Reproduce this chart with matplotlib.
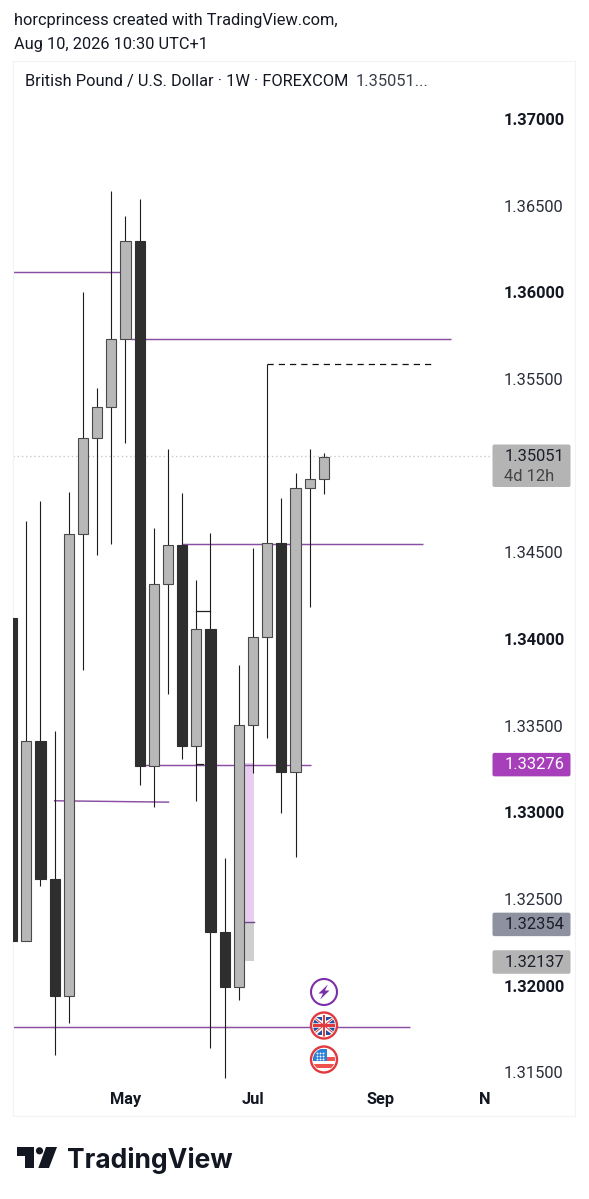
import matplotlib
matplotlib.use("Agg")
import matplotlib.pyplot as plt
from matplotlib.patches import Circle, Polygon, Rectangle, FancyBboxPatch

plt.rcParams['font.family'] = ['Roboto', 'DejaVu Sans']

W, H = 589, 1199
# ---------- data (weekly GBP/USD candles) ----------
opens = [1.34118, 1.32257, 1.33408, 1.32615, 1.31939, 1.34607, 1.35161, 1.35336, 1.35731, 1.36296,
         1.33267, 1.34314, 1.34544, 1.33380, 1.34060, 1.32308, 1.31994, 1.33506, 1.34011, 1.34552,
         1.33233, 1.34873, 1.34924]
closes = [1.32257, 1.33408, 1.32615, 1.31939, 1.34607, 1.35161, 1.35336, 1.35731, 1.36296, 1.33267,
          1.34314, 1.34544, 1.33380, 1.34060, 1.32308, 1.31994, 1.33506, 1.34011, 1.34552, 1.33233,
          1.34871, 1.34921, 1.35051]
highs = [1.34118, 1.34679, 1.34797, 1.33469, 1.34848, 1.36000, 1.35448, 1.36583, 1.36439, 1.36538,
         1.34638, 1.35098, 1.34840, 1.34340, 1.34613, 1.32736, 1.33851, 1.34523, 1.35585, 1.34815,
         1.34956, 1.35094, 1.35071]
lows = [1.32257, 1.32257, 1.32575, 1.31600, 1.31781, 1.33821, 1.34482, 1.34546, 1.35129, 1.33157,
        1.33030, 1.33682, 1.33309, 1.33066, 1.31638, 1.31469, 1.31914, 1.33229, 1.33430, 1.32993,
        1.32744, 1.34182, 1.34836]

level_prices = [1.36115, 1.35731, 1.34549, 1.33270, 1.31762]
level_starts = [-1.0, 8.4, 12.0, 9.0, -1.0]
level_ends = [7.6, 31.0, 29.03, 21.06, 28.1]
slant_prices = [1.33066, 1.33058]
slant_bars = [3.0, 11.04]
dashed_price = 1.35585
dashed_bars = [18.0, 29.74]
short_price = 1.34163
short_bars = [13.0, 14.0]
stub_price = 1.33277
stub_bars = [13.0, 13.45]
zone_top = 1.33284
zone_mid = 1.32369
zone_bottom = 1.32143
zone_bars = [16.4, 17.05]
last_price = 1.35051

major_ticks = [1.37, 1.36, 1.34, 1.33, 1.32]
minor_ticks = [1.365, 1.355, 1.345, 1.335, 1.325, 1.315]
month_labels = ['May', 'Jul', 'Sep', 'N']
month_bars = [8.0, 17.0, 26.0, 33.38]

badge_values = [1.33276, 1.32354, 1.32137]
badge_labels = ['1.33276', '1.32354', '1.32137']
badge_fills = ['#a83fba', '#8e919f', '#b4b4b4']
badge_text = ['#ffffff', '#1c1f2a', '#1c1f2a']

# ---------- layout ----------
FRAME_L, FRAME_R, FRAME_T, FRAME_B = 13.0, 575.0, 61, 1116
PX_PER_PRICE = 17330.0
PX_PER_BAR = 14.17
X0 = 12.1
Y0 = 119.0

def px_y(p):
    return Y0 + (1.37 - p) * PX_PER_PRICE

fig = plt.figure(figsize=(W / 100, H / 100), dpi=100, facecolor='white')
ax = fig.add_axes([FRAME_L / W, 1 - FRAME_B / H, (FRAME_R - FRAME_L) / W, (FRAME_B - FRAME_T) / H])
ax.set_xlim((FRAME_L - X0) / PX_PER_BAR, (FRAME_R - X0) / PX_PER_BAR)
ax.set_ylim(1.37 - (FRAME_B - Y0) / PX_PER_PRICE, 1.37 + (Y0 - FRAME_T) / PX_PER_PRICE)
for s in ax.spines.values():
    s.set_color('#f2f3f6')
    s.set_linewidth(0.8)

PURPLE = '#8a4ea3'
# levels
for p, a, b in zip(level_prices, level_starts, level_ends):
    ax.plot([a, b], [p, p], color=PURPLE, lw=1.05, zorder=2, solid_capstyle='butt')
ax.plot(slant_bars, slant_prices, color=PURPLE, lw=1.05, zorder=2)
ax.plot(dashed_bars, [dashed_price] * 2, color='#111111', lw=0.9, ls=(0, (5, 4)), zorder=2)
ax.plot(short_bars, [short_price] * 2, color='#222222', lw=0.9, zorder=2)
ax.plot(stub_bars, [stub_price] * 2, color='#222222', lw=0.9, zorder=2)
ax.plot([(FRAME_L - X0) / PX_PER_BAR, (492 - X0) / PX_PER_BAR], [last_price + 0.00003] * 2,
        color='#c9c9c9', lw=1.0, ls=(0, (1, 2)), zorder=1)

# zone
ax.bar(sum(zone_bars) / 2, zone_top - zone_mid, bottom=zone_mid, width=zone_bars[1] - zone_bars[0],
       color='#e8cdf0', zorder=1.5)
ax.bar(sum(zone_bars) / 2, zone_mid - zone_bottom, bottom=zone_bottom, width=zone_bars[1] - zone_bars[0],
       color='#cfcfcf', zorder=1.5)
ax.plot(zone_bars, [zone_mid] * 2, color='#6f4a85', lw=1.0, zorder=1.6)

# candles
idx = list(range(len(opens)))
ax.vlines(idx, lows, highs, color='#1d1d1d', lw=0.8, zorder=3)
for i, o, c in zip(idx, opens, closes):
    up = c >= o
    ax.bar(i, abs(c - o), bottom=min(o, c), width=0.72,
           facecolor='#b8b8b8' if up else '#2e2e2e',
           edgecolor='#4a4a4a' if up else '#2e2e2e', lw=0.8, zorder=4)

# axes labels
ticks = major_ticks + minor_ticks
ax.yaxis.tick_right()
ax.set_yticks(ticks)
ax.set_yticklabels([f'{t:.5f}' for t in ticks])
ax.tick_params(axis='y', length=0, pad=-(FRAME_R - 504) * 0.72, labelsize=11.9, labelcolor='#131722')
for lab, t in zip(ax.get_yticklabels(), ticks):
    lab.set_fontweight('bold' if t in major_ticks else 'normal')
    lab.set_color('#131722' if t in major_ticks else '#2a2e39')
ax.set_xticks(month_bars)
ax.set_xticklabels(month_labels)
ax.tick_params(axis='x', length=0, pad=-(FRAME_B - 1092) * 0.72, labelsize=11.8, labelcolor='#131722')
for lab in ax.get_xticklabels():
    lab.set_fontweight('bold')

# ---------- overlay in pixel coordinates ----------
ov = fig.add_axes([0, 0, 1, 1], zorder=5)
ov.set_xlim(0, W)
ov.set_ylim(H, 0)
ov.axis('off')
ov.patch.set_alpha(0)

ov.text(13.5, 20.5, 'horcprincess created with TradingView.com,', fontsize=11.75, color='#131722', va='center')
ov.text(13.5, 45, 'Aug 10, 2026 10:30 UTC+1', fontsize=11.75, color='#131722', va='center')
ov.text(25, 81.5, 'British Pound / U.S. Dollar · 1W · FOREXCOM', fontsize=11.8, color='#131722', va='center')
ov.text(356, 81.5, '1.35051...', fontsize=11.9, color='#3b3f4a', va='center')

# price badges
ov.add_patch(FancyBboxPatch((492.5, 444.5), 78, 42.5, boxstyle='round,pad=0,rounding_size=2', fc='#b4b4b4', ec='none'))
ov.text(504.5, 456.5, f'{last_price:.5f}', fontsize=11.9, color='#1c1f2a', va='center')
ov.text(504.5, 476.5, '4d 12h', fontsize=11.9, color='#444444', va='center')
for v, lab, fc, tc in zip(badge_values, badge_labels, badge_fills, badge_text):
    y = px_y(v)
    ov.add_patch(FancyBboxPatch((492.5, y - 11.5), 78, 23.5, boxstyle='round,pad=0,rounding_size=2', fc=fc, ec='none'))
    ov.text(504.5, y + 0.5, lab, fontsize=11.9, color=tc, va='center')

# event icons
CX = 324.0
RED = '#e0393e'
RING = 13.0
# bolt
cy = 992.0
ov.add_patch(Circle((CX, cy), RING, fc='white', ec='#7b2fa8', lw=1.5))
ov.add_patch(Polygon([(CX + 3.8, cy - 7.5), (CX - 5.5, cy + 1.5), (CX - 1, cy + 1.5), (CX - 3.8, cy + 7.5),
                      (CX + 5.5, cy - 1.5), (CX + 1, cy - 1.5)], closed=True, fc='#7b2fa8', ec='none'))
# UK
r = 11.0
cy = 1025.5
clip = Circle((CX, cy), r, transform=ov.transData)
ov.add_patch(Circle((CX, cy), RING, fc='white', ec=RED, lw=1.7))
for pts in ([(CX - 8.5, cy - 9), (CX - 2.2, cy - 9), (CX - 2.2, cy - 4.5)], [(CX + 8.5, cy - 9), (CX + 2.2, cy - 9), (CX + 2.2, cy - 4.5)],
            [(CX - 8.5, cy + 9), (CX - 2.2, cy + 9), (CX - 2.2, cy + 4.5)], [(CX + 8.5, cy + 9), (CX + 2.2, cy + 9), (CX + 2.2, cy + 4.5)],
            [(CX - 11, cy - 7), (CX - 4.5, cy - 2.2), (CX - 11, cy - 2.2)], [(CX + 11, cy - 7), (CX + 4.5, cy - 2.2), (CX + 11, cy - 2.2)],
            [(CX - 11, cy + 7), (CX - 4.5, cy + 2.2), (CX - 11, cy + 2.2)], [(CX + 11, cy + 7), (CX + 4.5, cy + 2.2), (CX + 11, cy + 2.2)]):
    p = Polygon(pts, closed=True, fc='#234f9e', ec='none')
    ov.add_patch(p)
    p.set_clip_path(clip)
for (a, b) in (((CX - 10, cy - 8), (CX + 10, cy + 8)), ((CX - 10, cy + 8), (CX + 10, cy - 8))):
    l, = ov.plot([a[0], b[0]], [a[1], b[1]], color=RED, lw=0.7)
    l.set_clip_path(clip)
for rect in ((CX - 1.3, cy - r, 2.6, 2 * r), (CX - r, cy - 1.3, 2 * r, 2.6)):
    p = Rectangle(rect[:2], rect[2], rect[3], fc=RED, ec='none')
    ov.add_patch(p)
    p.set_clip_path(clip)
# US
cy = 1059.5
clip2 = Circle((CX, cy), r, transform=ov.transData)
ov.add_patch(Circle((CX, cy), RING, fc='white', ec=RED, lw=1.7))
for ytop, hgt in ((cy - 2.5, 4.0), (cy + 4.5, 4.0)):
    p = Rectangle((CX - r, ytop), 2 * r, hgt, fc='#ef5350', ec='none')
    ov.add_patch(p)
    p.set_clip_path(clip2)
p = Rectangle((CX - r, cy - r), r + 2.5, r + 1.5, fc='#2f80d8', ec='none')
ov.add_patch(p)
p.set_clip_path(clip2)
ov.scatter([CX + dx for dx in (-7, -4, -1) for _ in range(3)],
           [cy + dy for _ in range(3) for dy in (-6.5, -3.5, -0.8)], s=1.8, color='white', linewidths=0, zorder=6)

# logo
ov.add_patch(Polygon([(16.5, 1147), (33.5, 1147), (33.5, 1168), (25, 1168), (25, 1156), (16.5, 1156)],
                     closed=True, fc='#131722', ec='none'))
ov.add_patch(Circle((39.5, 1150.8), 3.6, fc='#131722', ec='none'))
ov.add_patch(Polygon([(46, 1147), (57, 1147), (49, 1168), (38.3, 1168)], closed=True, fc='#131722', ec='none'))
ov.text(67.5, 1160.5, 'TradingView', family=['Inter', 'Roboto'], fontsize=19.0, fontweight='bold', color='#131722', va='center')

fig.savefig('out.png', dpi=100, facecolor='white')
